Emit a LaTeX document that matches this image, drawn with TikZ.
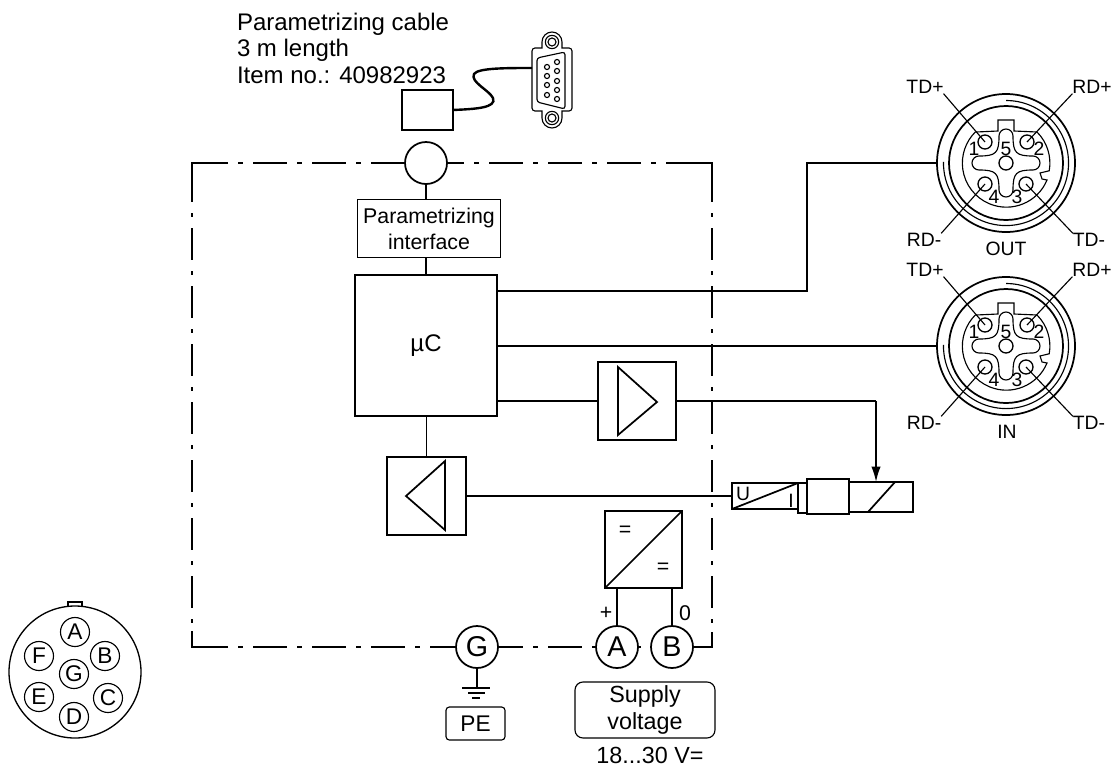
\documentclass[tikz,border=0pt]{standalone}
\usepackage{fontspec}
\setmainfont{Liberation Sans}
\usetikzlibrary{arrows.meta}

\tikzset{
    wire/.style={line width=1.3pt},
    thinwire/.style={line width=.85pt},
    framedashh/.style={line width=1.4pt,dash pattern=on 3.75pt off 7.5pt on 25.5pt off 7.5pt},
    framedashv/.style={line width=1.4pt,dash pattern=on 3pt off 8.25pt on 24pt off 8.25pt},
    blockbox/.style={draw,line width=1.3pt,inner sep=0pt,outer sep=0pt},
    terminal/.style={draw,circle,line width=1.3pt,fill=white,inner sep=0pt,outer sep=0pt,minimum size=31.5pt,font=\fontsize{21.5}{22}\selectfont},
    pinlabel/.style={circle,draw,line width=.85pt,inner sep=0pt,outer sep=0pt,minimum size=21.75pt,font=\fontsize{17}{17}\selectfont},
    smalltext/.style={inner sep=0pt,outer sep=0pt,font=\fontsize{14.5}{15}\selectfont},
    bigtext/.style={inner sep=0pt,outer sep=0pt,align=center,font=\fontsize{17.5}{20}\selectfont},
    plugpin/.style={circle,draw,line width=1pt,inner sep=0pt,outer sep=0pt,minimum size=10.5pt},
    plug/.pic={
        \begin{scope}[y=.75pt]
            \node[circle,draw,line width=1.3pt,inner sep=0pt,outer sep=0pt,minimum size=103.5pt] (-ring) at (0,0) {};
            \node[circle,draw,line width=1.3pt,inner sep=0pt,outer sep=0pt,minimum size=85.5pt] (-inner) at (0,0) {};
            \draw[thinwire] (0,62.5) arc[start angle=90,end angle=-181,radius=46.9pt];
            % insert outline with key and notch
            \draw[thinwire] (-8,32) -- (-8,43) -- (8,43) -- (8,32) -- (31,31)
                arc[start angle=45,end angle=-10,radius=33pt]
                -- (34,-10) -- (36,-16) -- (41,-17)
                arc[start angle=-22.5,end angle=-225,radius=33pt] -- cycle;
            % cross
            \draw[thinwire] (7,27) .. controls (7,10) and (10,7) .. (27,7)
                arc[start angle=90,end angle=-90,radius=5.25pt]
                .. controls (10,-7) and (7,-10) .. (7,-27)
                arc[start angle=0,end angle=-180,radius=5.25pt]
                .. controls (-7,-10) and (-10,-7) .. (-27,-7)
                arc[start angle=-90,end angle=-270,radius=5.25pt]
                .. controls (-10,7) and (-7,10) .. (-7,27)
                arc[start angle=180,end angle=0,radius=5.25pt];
            \node[plugpin] (-hole) at (0,0) {};
            \node[plugpin] (-pina) at (-21,21) {};
            \node[plugpin] (-pinb) at (21,21) {};
            \node[plugpin] (-pinc) at (20,-21) {};
            \node[plugpin] (-pind) at (-21,-21) {};
            \node[smalltext] (-numa) at (-32,14) {1};
            \node[smalltext] (-numb) at (33,14) {2};
            \node[smalltext] (-numc) at (11,-34) {3};
            \node[smalltext] (-numd) at (-12,-34) {4};
            \node[smalltext] (-nume) at (0,14) {5};
            \node[smalltext] (-tdp) at (-81,76) {TD+};
            \node[smalltext] (-rdp) at (86,76) {RD+};
            \node[smalltext] (-rdm) at (-82,-77) {RD-};
            \node[smalltext] (-tdm) at (83,-77) {TD-};
            \draw[thinwire] (-tdp.south east) -- (-pina.center);
            \draw[thinwire] (-rdp.south west) -- (-pinb.center);
            \draw[thinwire] (-rdm.north east) -- (-pind.center);
            \draw[thinwire] (-tdm.north west) -- (-pinc.center);
        \end{scope}
    }
}

\begin{document}
\begin{tikzpicture}[x=.75pt,y=-.75pt]
    \useasboundingbox (0,0) rectangle (1116,768);

    % housing outline
    \draw[line width=1.4pt] (228,163) -- (192,163) -- (192,202);
    \draw[line width=1.4pt] (672,163) -- (712,163) -- (712,202);
    \draw[line width=1.4pt] (228,647) -- (192,647) -- (192,631);
    \draw[line width=1.4pt] (693,647) -- (712,647) -- (712,632);
    \draw[framedashh] (238,163) -- (672,163);
    \draw[framedashh] (238,647) -- (693,647);
    \draw[framedashv] (192,213) -- (192,631);
    \draw[framedashv] (712,213) -- (712,632);

    % blocks
    \node[terminal] (port) at (426,163) {};
    \node[blockbox,thinwire,minimum width=107pt,minimum height=44pt,align=center,font=\fontsize{16}{19.5}\selectfont] (paramif) at (429,228.5) {Parametrizing\\interface};
    \node[blockbox,minimum width=107pt,minimum height=106pt,font=\fontsize{18}{18}\selectfont] (mcu) at (426,345.5) {µC};
    \node[blockbox,minimum width=58.5pt,minimum height=58.5pt] (ampout) at (637,401) {};
    \node[blockbox,minimum width=59pt,minimum height=58.5pt] (ampin) at (426.5,496) {};
    \node[blockbox,minimum width=58pt,minimum height=58pt] (conv) at (643.5,549.5) {};
    \draw[wire] (618,367) -- (618,435) -- (657,402) -- cycle;
    \draw[wire] (445,461) -- (445,530) -- (406,496) -- cycle;
    \draw[wire] (conv.south west) -- (conv.north east);
    \node[smalltext,font=\fontsize{16}{16}\selectfont] (eqa) at (625,531) {=};
    \node[smalltext,font=\fontsize{16}{16}\selectfont] (eqb) at (663,568) {=};

    % sensor
    \node[blockbox,minimum width=49.5pt,minimum height=19.5pt] (sensor) at (765,496) {};
    \draw[wire] (sensor.south west) -- (sensor.north east);
    \node[smalltext] (ulabel) at (743,494) {U};
    \node[smalltext] (ilabel) at (791,501) {I};
    \node[blockbox,minimum width=6.75pt,minimum height=22.5pt] (collar) at (802.5,498) {};
    \node[blockbox,minimum width=48pt,minimum height=22.5pt] (coil) at (881,497) {};
    \node[blockbox,fill=white,minimum width=31.5pt,minimum height=26.25pt] (slug) at (828,496.5) {};
    \draw[wire] (868,512) -- (895,482);

    % terminals
    \node[terminal] (gterm) at (477,647) {G};
    \node[terminal] (aterm) at (617,647) {A};
    \node[terminal] (bterm) at (672,647) {B};
    \node[smalltext,font=\fontsize{16}{16}\selectfont] (plus) at (606,613) {+};
    \node[smalltext,font=\fontsize{16}{16}\selectfont] (zero) at (685,613) {0};
    \node[draw,thinwire,rounded corners=2.5pt,inner sep=0pt,outer sep=0pt,minimum width=44.25pt,minimum height=24.75pt,font=\fontsize{17}{17}\selectfont] (pebox) at (475.5,723.5) {PE};
    \node[draw,thinwire,rounded corners=6pt,inner sep=0pt,outer sep=0pt,minimum width=105pt,minimum height=42pt,align=center,font=\fontsize{17.5}{20}\selectfont] (supply) at (645,710) {Supply\\voltage};
    \node[bigtext] (range) at (650,755) {18...30 V=};

    % plugs
    \pic (outplug) at (1006,163) {plug};
    \pic (inplug) at (1006,346) {plug};
    \node[smalltext] (outlabel) at (1006,249) {OUT};
    \node[smalltext] (inlabel) at (1007,432) {IN};

    % connections
    \coordinate (outbend) at (807,291);
    \coordinate (ampbend) at (876,401);
    \draw[wire] (port.south) -- (port.south |- paramif.north);
    \draw[wire] (port.south |- paramif.south) -- (port.south |- mcu.north);
    \draw[wire] (mcu.east |- outbend) -- (outbend) |- (outplug-ring.west);
    \draw[wire] (mcu.east |- inplug-ring.west) -- (inplug-ring.west);
    \draw[wire] (mcu.east |- ampout) -- (ampout.west);
    \draw[wire] (ampout.east) -- (ampbend);
    \draw[wire,-{Latex[length=11.5pt,width=7pt]}] (ampbend) -- (ampbend |- coil.north);
    \draw[wire] (mcu.south -| ampin) -- (ampin.north);
    \draw[wire] (ampin.east) -- (sensor.west);
    \draw[wire] (aterm.north) -- (aterm.north |- conv.south);
    \draw[wire] (bterm.north) -- (bterm.north |- conv.south);
    \draw[wire] (gterm.south) -- (477,688);
    \draw[wire] (462,688) -- (490,688);
    \draw[line width=1pt] (468,693) -- (485,693);
    \draw[line width=1pt] (472,698) -- (480,698);

    % round connector
    \draw[line width=1pt,fill=white] (68,602) rectangle (82,612);
    \node[circle,draw,line width=1pt,fill=white,inner sep=0pt,outer sep=0pt,minimum size=99pt] (roundplug) at (75,672) {};
    \node[pinlabel] (pina) at (75,632) {A};
    \node[pinlabel] (pinb) at (105,656) {B};
    \node[pinlabel] (pinc) at (108,698) {C};
    \node[pinlabel] (pind) at (74,717) {D};
    \node[pinlabel] (pine) at (39,697) {E};
    \node[pinlabel] (pinf) at (39,656) {F};
    \node[pinlabel] (ping) at (74,674) {G};

    % cable and sub-d
    \node[anchor=west,inner sep=0pt,outer sep=0pt,align=left,font=\fontsize{18}{19.9}\selectfont] (cablelabel) at (237,48) {Parametrizing cable\\3 m length\\Item no.: 40982923};
    \node[blockbox,minimum width=38.25pt,minimum height=30pt] (dongle) at (427.5,110) {};
    \coordinate (subdin) at (532,68);
    \draw[line width=1.8pt] (dongle.east) .. controls (475,109) and (497,108) .. (493,98)
        .. controls (489,90) and (470,82) .. (474,74)
        .. controls (478,68) and (505,68) .. (subdin);
    \draw[thinwire] (542,48) -- (542,42) arc[start angle=180,end angle=0,radius=7.5pt] -- (562,48)
        -- (569,48) arc[start angle=90,end angle=0,radius=2.25pt] -- (572,108)
        arc[start angle=0,end angle=-90,radius=2.25pt] -- (562,111) -- (562,118)
        arc[start angle=360,end angle=180,radius=7.5pt] -- (542,111) -- (535,111)
        arc[start angle=270,end angle=180,radius=2.25pt] -- (532,51)
        arc[start angle=180,end angle=90,radius=2.25pt] -- cycle;
    \draw[thinwire,rounded corners=2pt] (537,58) -- (565,52) -- (565,109) -- (537,102) -- cycle;
    \draw[thinwire] (552,42) circle (5pt);
    \draw[thinwire] (552,42) circle (3pt);
    \draw[thinwire] (552,118) circle (5pt);
    \draw[thinwire] (552,118) circle (3pt);
    \draw[thinwire] (557,62) circle (1.9pt);
    \draw[thinwire] (557,71) circle (1.9pt);
    \draw[thinwire] (557,81) circle (1.9pt);
    \draw[thinwire] (557,90) circle (1.9pt);
    \draw[thinwire] (557,99) circle (1.9pt);
    \draw[thinwire] (547,67) circle (1.9pt);
    \draw[thinwire] (547,76) circle (1.9pt);
    \draw[thinwire] (547,85) circle (1.9pt);
    \draw[thinwire] (547,95) circle (1.9pt);
\end{tikzpicture}
\end{document}
